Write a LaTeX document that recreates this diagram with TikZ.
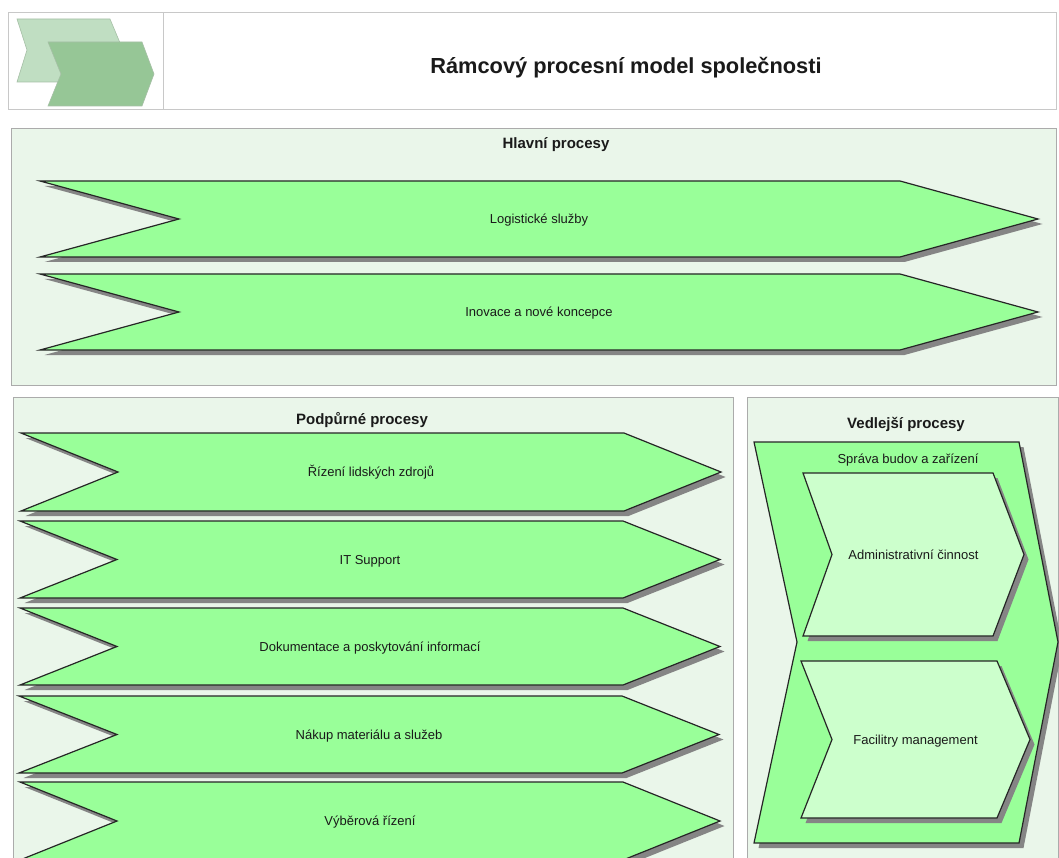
\documentclass[tikz,border=0pt]{standalone}
\usepackage{fontspec}
\setmainfont{Liberation Sans}
\definecolor{panelfill}{HTML}{EAF6EA}
\definecolor{panelline}{HTML}{ABABAB}
\definecolor{headline}{HTML}{C8C8C8}
\definecolor{procfill}{HTML}{99FF99}
\definecolor{subfill}{HTML}{CCFFCC}
\definecolor{shade}{HTML}{858585}
\definecolor{logolight}{HTML}{C0DEC2}
\definecolor{logodark}{HTML}{96C696}
\definecolor{logoline}{HTML}{A6BFA6}
\definecolor{txt}{HTML}{1A1A1A}
\tikzset{
  panel/.style={fill=panelfill, draw=panelline, line width=1pt},
  procshape/.style={fill=procfill, draw=black!85, line width=1.2pt, line join=miter},
  subshape/.style={fill=subfill, draw=black!85, line width=1.2pt, line join=miter},
  shadowshape/.style={fill=shade},
  lbl/.style={font=\fontsize{13}{15}\selectfont, text=txt, anchor=base, inner sep=0pt},
  heading/.style={font=\fontsize{15}{17}\selectfont\bfseries, text=txt, anchor=base, inner sep=0pt},
}
% chevron: #1 name, #2 left x, #3 notch x, #4 corner x, #5 tip x, #6 top y, #7 bottom y, #8 style, #9 label
\newcommand{\chevronbox}[9]{%
  \pgfmathsetmacro{\cmid}{(#6+#7)/2}%
  \fill[shadowshape, shift={(4.5,5)}] (#2,#6) -- (#4,#6) -- (#5,\cmid) -- (#4,#7) -- (#2,#7) -- (#3,\cmid) -- cycle;
  \draw[#8] (#2,#6) -- (#4,#6) -- (#5,\cmid) -- (#4,#7) -- (#2,#7) -- (#3,\cmid) -- cycle;
  \pgfmathsetmacro{\cx}{(#2+#5)/2}%
  \node[lbl] (#1) at (\cx,\cmid+4.5) {#9};
}
\begin{document}
\begin{tikzpicture}[x=1pt, y=-1pt]
  \useasboundingbox (0,0) rectangle (1059,858);
  \fill[white] (0,0) rectangle (1059,858);
  \clip (0,0) rectangle (1059,858);

  % header with logo and title
  \draw[headline, line width=1pt] (8,13) rectangle (1056,110);
  \draw[headline, line width=1pt] (163,13) -- (163,110);
  \draw[fill=logolight, draw=logoline, line width=0.6pt]
    (17,19) -- (110,19) -- (123,50) -- (110,82) -- (17,82) -- (27,50) -- cycle;
  \draw[fill=logodark, draw=logoline, line width=0.6pt]
    (48,42) -- (142,42) -- (154,74) -- (142,106) -- (48,106) -- (61,74) -- cycle;
  \node[anchor=base, inner sep=0pt, text=txt, font=\fontsize{21.8}{25}\selectfont\bfseries]
    (title) at (626,74) {Rámcový procesní model společnosti};

  % main processes
  \draw[panel] (11,129) rectangle (1056,385);
  \node[heading] (mainhead) at (556,149) {Hlavní procesy};
  \chevronbox{log}{40}{179}{900}{1038}{181}{257}{procshape}{Logistické služby}
  \chevronbox{inov}{40}{179}{900}{1038}{274}{350}{procshape}{Inovace a nové koncepce}

  % support processes
  \draw[panel] (13,397) rectangle (733,880);
  \node[heading] (supphead) at (362,424) {Podpůrné procesy};
  \chevronbox{hr}{21}{118}{624}{721}{433}{511}{procshape}{Řízení lidských zdrojů}
  \chevronbox{it}{20}{117}{623}{720}{521}{598}{procshape}{IT Support}
  \chevronbox{doc}{20}{117}{623}{720}{608}{685}{procshape}{Dokumentace a poskytování informací}
  \chevronbox{buy}{19}{117}{622}{719}{696}{773}{procshape}{Nákup materiálu a služeb}
  \chevronbox{sel}{20}{117}{623}{720}{782}{860}{procshape}{Výběrová řízení}

  % secondary processes
  \draw[panel] (747,397) rectangle (1058,880);
  \node[heading] (sidehead) at (906,428) {Vedlejší procesy};
  \fill[shadowshape, shift={(4.5,5)}]
    (754,442) -- (1019,442) -- (1058,642) -- (1019,843) -- (754,843) -- (797,642) -- cycle;
  \draw[procshape]
    (754,442) -- (1019,442) -- (1058,642) -- (1019,843) -- (754,843) -- (797,642) -- cycle;
  \node[lbl] (facil) at (908,463) {Správa budov a zařízení};
  \chevronbox{admin}{803}{832}{993}{1024}{473}{636}{subshape}{Administrativní činnost}
  \chevronbox{fm}{801}{832}{997}{1030}{661}{818}{subshape}{Facilitry management}
\end{tikzpicture}
\end{document}
